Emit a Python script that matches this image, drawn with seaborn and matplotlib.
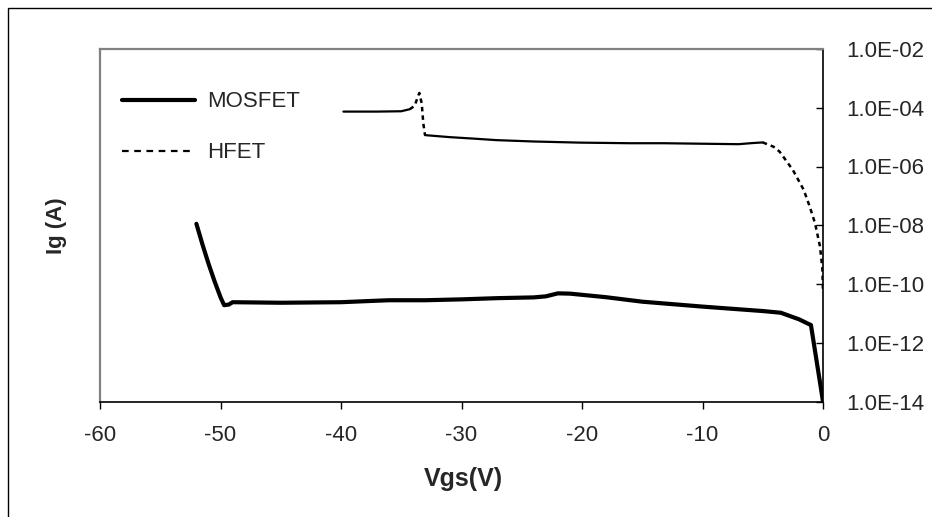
import numpy as np
import pandas as pd
import seaborn as sns
import matplotlib
matplotlib.use("Agg")
import matplotlib.pyplot as plt
from matplotlib.lines import Line2D
from matplotlib.patches import Rectangle

# ---- data ----
mos_v = [-52.0, -51.5, -51.0, -50.5, -50.0, -49.7, -49.3, -49.0, -47.0, -45.0,
         -40.0, -37.0, -36.0, -33.0, -30.0, -27.0, -24.0, -23.0, -22.0, -21.0,
         -18.0, -15.0, -10.0, -5.0, -3.5, -2.0, -1.0, 0.0]
mos_i = [1.12e-8, 2.24e-9, 5.0e-10, 1.26e-10, 3.55e-11, 1.9e-11, 2.0e-11, 2.4e-11, 2.35e-11, 2.3e-11,
         2.4e-11, 2.7e-11, 2.8e-11, 2.8e-11, 3.0e-11, 3.3e-11, 3.5e-11, 3.8e-11, 4.8e-11, 4.7e-11,
         3.55e-11, 2.5e-11, 1.7e-11, 1.2e-11, 1.05e-11, 6.3e-12, 4.0e-12, 1.0e-14]

hfet_v = [-39.8, -37.0, -35.0, -34.3, -33.9, -33.5, -33.3, -33.17, -33.03, -31.0,
          -29.0, -27.1, -24.0, -20.2, -16.0, -13.2, -9.2, -7.0, -5.8, -5.0,
          -4.1, -3.6, -2.5, -1.6, -1.1, -0.66, -0.25, -0.05, 0.0]
hfet_i = [7.4e-5, 7.4e-5, 7.6e-5, 8.9e-5, 1.15e-4, 3.2e-4, 1.4e-4, 2.95e-5, 1.17e-5, 1.0e-5,
          8.9e-6, 7.9e-6, 7.1e-6, 6.5e-6, 6.2e-6, 6.2e-6, 5.9e-6, 5.75e-6, 6.3e-6, 6.6e-6,
          4.7e-6, 3.2e-6, 7.6e-7, 1.6e-7, 4.3e-8, 1.17e-8, 1.9e-9, 3.2e-10, 5.0e-11]

series_names = ["MOSFET", "HFET"]
x_ticks = [-60, -50, -40, -30, -20, -10, 0]
y_ticks = [1e-14, 1e-12, 1e-10, 1e-8, 1e-6, 1e-4, 1e-2]
y_tick_labels = ["1.0E-14", "1.0E-12", "1.0E-10", "1.0E-08", "1.0E-06", "1.0E-04", "1.0E-02"]
x_label = "Vgs(V)"
y_label = "Ig (A)"

# ---- style ----
sns.set_theme(style="white")
plt.rcParams["font.family"] = ["Liberation Sans", "DejaVu Sans"]

fig = plt.figure(figsize=(9.32, 5.17), dpi=100)
ax = fig.add_axes([100 / 932, 1 - 401.5 / 517, 723 / 932, 352.5 / 517])

mos = pd.DataFrame({"V": mos_v, "I": mos_i})
hf = pd.DataFrame({"V": hfet_v, "I": hfet_i})

sns.lineplot(data=mos, x="V", y="I", ax=ax, color="black", lw=3.0,
             estimator=None, sort=False, solid_joinstyle="round", solid_capstyle="round")

# Excel renders the dense flat parts of the dashed series as solid
flat1 = hf[hf.V <= -34.3]
spike = hf[(hf.V >= -34.3) & (hf.V <= -33.03)]
flat2 = hf[(hf.V >= -33.03) & (hf.V <= -5.0)]
tail = hf[hf.V >= -5.0]
for seg in (flat1, flat2):
    sns.lineplot(data=seg, x="V", y="I", ax=ax, color="black", lw=1.6,
                 estimator=None, sort=False)
for seg in (spike, tail):
    sns.lineplot(data=seg, x="V", y="I", ax=ax, color="black", lw=1.8,
                 estimator=None, sort=False, dashes=False, linestyle=(0, (1.8, 1.6)))

ax.set_yscale("log")
ax.set_xlim(-60, 0)
ax.set_ylim(1e-14, 1e-2)
ax.set_xticks(x_ticks)
ax.set_xticklabels([str(t) for t in x_ticks])
ax.set_yticks(y_ticks)
ax.set_yticklabels(y_tick_labels)
ax.yaxis.set_minor_locator(matplotlib.ticker.NullLocator())
ax.xaxis.set_minor_locator(matplotlib.ticker.NullLocator())

ax.yaxis.tick_right()
ax.tick_params(axis="y", which="major", direction="in", length=5, width=1.0,
               color="black", labelsize=16, pad=17, right=True, left=False,
               labelright=True, labelleft=False)
ax.tick_params(axis="x", which="major", direction="out", length=5, width=1.0,
               color="black", labelsize=16, pad=12, bottom=True)

for s in ("left", "top"):
    ax.spines[s].set_color("#808080")
    ax.spines[s].set_linewidth(1.6)
for s in ("right", "bottom"):
    ax.spines[s].set_color("black")
    ax.spines[s].set_linewidth(1.2)

ax.set_xlabel(x_label, fontsize=18, fontweight="bold")
ax.xaxis.set_label_coords((463 - 100) / 723, (401.5 - 467) / 352.5)
ax.yaxis.set_label_position("left")
ax.set_ylabel(y_label, fontsize=16, fontweight="bold")
ax.yaxis.set_label_coords((67 - 100) / 723, 0.5)

handles = [Line2D([0], [0], color="black", lw=3.0, solid_capstyle="round"),
           Line2D([0], [0], color="black", lw=1.6, linestyle=(0, (3, 2.5)))]
ax.legend(handles, series_names, loc="upper left", bbox_to_anchor=(0.03, 0.88),
          frameon=False, fontsize=16, handlelength=3.3, handletextpad=0.55,
          labelspacing=1.35, borderpad=0, borderaxespad=0)

# outer chart-area border (cropped on right and bottom)
fig.patches.append(Rectangle((8 / 932, -0.2), 2.0, 1 - 8 / 517 + 0.2,
                             transform=fig.transFigure, fill=False,
                             edgecolor="black", lw=1.0))

fig.savefig("out.png", dpi=100)
